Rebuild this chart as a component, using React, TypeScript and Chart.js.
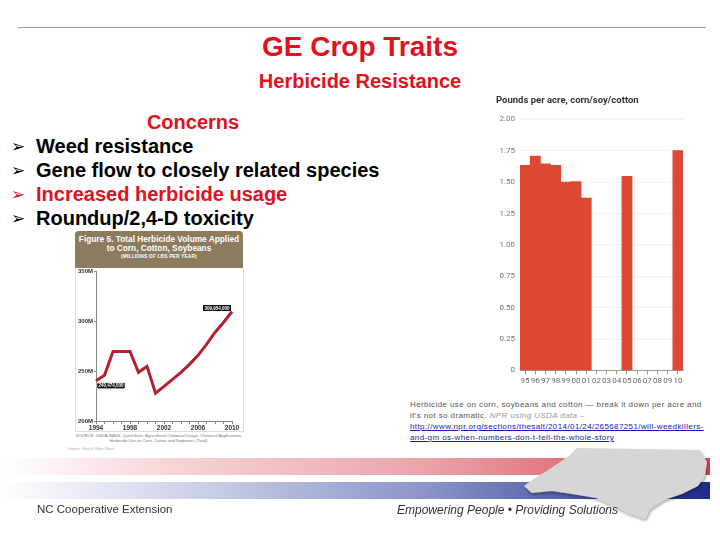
import React, { useEffect, useRef } from "react";
import { Chart, registerables } from "chart.js";

Chart.register(...registerables);

// ---- Bar chart data (pounds per acre, corn/soy/cotton) ----
const barYears = ["95", "96", "97", "98", "99", "00", "01", "02", "03", "04", "05", "06", "07", "08", "09", "10"];
const barValues: (number | null)[] = [1.635, 1.707, 1.645, 1.635, 1.5, 1.504, 1.373, null, null, null, 1.547, null, null, null, null, 1.752];
const barTitle = "Pounds per acre, corn/soy/cotton";

// ---- Line chart data (total herbicide volume, millions of lbs) ----
const lineYears = ["1994", "1995", "1996", "1997", "1998", "1999", "2000", "2001", "2002", "2003", "2004", "2005", "2006", "2007", "2008", "2009", "2010"];
const lineValues = [240.5, 246, 270, 270, 270, 249, 255, 228, 235, 242, 249, 257, 266, 277, 289, 299, 310];
const lineEndLabels = ["240,474,000", "309,954,000"];
const lineYTicks = [200, 250, 300, 350];

const bullets = [
  { text: "Weed resistance", color: "#000" },
  { text: "Gene flow to closely related species", color: "#000" },
  { text: "Increased herbicide usage", color: "#e3101e" },
  { text: "Roundup/2,4-D toxicity", color: "#000" },
];

const RED = "#e3101e";
const SANS = "'Liberation Sans', Arial, sans-serif";

function BarChart() {
  const ref = useRef<HTMLCanvasElement>(null);
  useEffect(() => {
    const chart = new Chart(ref.current!, {
      type: "bar",
      data: {
        labels: barYears,
        datasets: [
          {
            data: barValues,
            backgroundColor: "#dc4832",
            barPercentage: 1,
            categoryPercentage: 1,
            borderWidth: 0,
          },
        ],
      },
      options: {
        animation: false,
        responsive: false,
        layout: { padding: { left: 0, right: 7, top: 0, bottom: 2 } },
        plugins: {
          legend: { display: false },
          tooltip: { enabled: false },
          title: {
            display: true,
            text: barTitle,
            align: "start",
            color: "#333",
            font: { family: "Roboto, sans-serif", size: 9.5, weight: "bold" },
            padding: { top: 5, bottom: 13 },
          },
        },
        scales: {
          x: {
            grid: { display: true, drawOnChartArea: false, offset: false, tickLength: 4, color: "#999" },
            border: { display: true, color: "#999" },
            ticks: {
              autoSkip: false,
              maxRotation: 0,
              minRotation: 0,
              padding: 2,
              color: "#666",
              font: { family: "Roboto, sans-serif", size: 8 },
            },
          },
          y: {
            min: 0,
            max: 2,
            afterFit: (axis: any) => {
              axis.width = 24;
            },
            grid: { color: "#eeeeee", drawTicks: false },
            border: { display: false },
            ticks: {
              stepSize: 0.25,
              padding: 5,
              color: "#777",
              font: { family: "Roboto, sans-serif", size: 8 },
              callback: (v: any) => (Number(v) === 0 ? "0" : Number(v).toFixed(2)),
            },
          },
        },
      },
    });
    return () => chart.destroy();
  }, []);
  return (
    <canvas
      ref={ref}
      width={194}
      height={300}
      style={{ position: "absolute", left: 496, top: 90, width: 194, height: 300 }}
    />
  );
}

const endLabelPlugin = {
  id: "endLabels",
  afterDatasetsDraw(chart: any) {
    const meta = chart.getDatasetMeta(0);
    const first = meta.data[0];
    const last = meta.data[meta.data.length - 1];
    const ctx = chart.ctx;
    ctx.save();
    ctx.font = "bold 4.5px 'Liberation Sans', Arial, sans-serif";
    ctx.textBaseline = "middle";
    ctx.textAlign = "center";
    const w = 28;
    const h = 6;
    let x = first.x + 1;
    let y = first.y + 2;
    ctx.fillStyle = "#111";
    ctx.fillRect(x, y, w, h);
    ctx.strokeStyle = "#fff";
    ctx.lineWidth = 0.6;
    ctx.strokeRect(x, y, w, h);
    ctx.fillStyle = "#fff";
    ctx.fillText(lineEndLabels[0], x + w / 2, y + h / 2 + 0.3);
    x = last.x - w - 1;
    y = last.y - h - 0.5;
    ctx.fillStyle = "#111";
    ctx.fillRect(x, y, w, h);
    ctx.fillStyle = "#fff";
    ctx.fillText(lineEndLabels[1], x + w / 2, y + h / 2 + 0.3);
    ctx.restore();
  },
};

function LineChart() {
  const ref = useRef<HTMLCanvasElement>(null);
  useEffect(() => {
    const chart = new Chart(ref.current!, {
      type: "line",
      data: {
        labels: lineYears,
        datasets: [
          {
            data: lineValues,
            borderColor: "#b3202e",
            borderWidth: 3,
            pointRadius: 0,
            tension: 0,
            fill: false,
          },
        ],
      },
      options: {
        animation: false,
        responsive: false,
        layout: { padding: { left: 0, right: 11, top: 3, bottom: 0 } },
        plugins: { legend: { display: false }, tooltip: { enabled: false } },
        scales: {
          x: {
            grid: { display: true, drawOnChartArea: false, tickLength: 3, color: "#888" },
            border: { display: true, color: "#888" },
            ticks: {
              autoSkip: false,
              maxRotation: 0,
              minRotation: 0,
              padding: 0,
              color: "#333",
              font: { family: SANS, size: 6.5, weight: "bold" },
              callback: (_v: any, i: number) => (i % 4 === 0 ? lineYears[i] : ""),
            },
          },
          y: {
            min: 200,
            max: 350,
            afterFit: (axis: any) => {
              axis.width = 23;
            },
            afterBuildTicks: (axis: any) => {
              axis.ticks = lineYTicks.map((v) => ({ value: v }));
            },
            grid: { display: true, drawOnChartArea: false, tickLength: 2, color: "#888" },
            border: { display: true, color: "#888" },
            ticks: {
              padding: 1,
              color: "#333",
              font: { family: SANS, size: 6, weight: "bold" },
              callback: (v: any) => `${v}M`,
            },
          },
        },
      },
      plugins: [endLabelPlugin],
    });
    return () => chart.destroy();
  }, []);
  return (
    <canvas
      ref={ref}
      width={170}
      height={165}
      style={{ position: "absolute", left: 73, top: 267, width: 170, height: 165 }}
    />
  );
}

export default function App() {
  return (
    <div
      style={{
        position: "absolute",
        left: 0,
        top: 0,
        width: 720,
        height: 540,
        background: "#fff",
        overflow: "hidden",
        fontFamily: SANS,
      }}
    >
      <div style={{ position: "absolute", left: 18, top: 27, width: 688, height: 1, background: "#a8a0a8" }} />
      <div
        style={{ position: "absolute", left: 0, width: 720, top: 31, textAlign: "center", color: RED, fontWeight: 700, fontSize: 28, lineHeight: "32px" }}
      >
        GE Crop Traits
      </div>
      <div
        style={{ position: "absolute", left: 0, width: 720, top: 69, textAlign: "center", color: RED, fontWeight: 700, fontSize: 20, lineHeight: "24px" }}
      >
        Herbicide Resistance
      </div>
      <div
        style={{ position: "absolute", left: 93, width: 200, top: 110, textAlign: "center", color: RED, fontWeight: 700, fontSize: 20, lineHeight: "24px" }}
      >
        Concerns
      </div>
      {bullets.map((b, i) => (
        <div key={i} style={{ position: "absolute", left: 0, top: 134 + i * 24, height: 24, lineHeight: "24px", whiteSpace: "nowrap" }}>
          <span style={{ position: "absolute", left: 11, fontFamily: "'DejaVu Sans', sans-serif", fontSize: 17, color: b.color }}>➢</span>
          <span style={{ position: "absolute", left: 36, fontWeight: 700, fontSize: 20, color: b.color }}>{b.text}</span>
        </div>
      ))}

      {/* Figure 5 panel */}
      <div
        style={{
          position: "absolute",
          left: 75,
          top: 231,
          width: 168,
          height: 37,
          background: "#8b7b5f",
          borderRadius: "4px 4px 0 0",
          color: "#fff",
          textAlign: "center",
        }}
      >
        <div style={{ fontSize: 8.3, fontWeight: 700, marginTop: 4, lineHeight: "9px" }}>Figure 5. Total Herbicide Volume Applied</div>
        <div style={{ fontSize: 8.3, fontWeight: 700, lineHeight: "9px" }}>to Corn, Cotton, Soybeans</div>
        <div style={{ fontSize: 4.8, fontWeight: 700, lineHeight: "8px", letterSpacing: 0.2 }}>(MILLIONS OF LBS PER YEAR)</div>
      </div>
      <div style={{ position: "absolute", left: 75, top: 268, width: 167, height: 163, border: "1px solid #ddd", borderTop: "none" }} />
      <LineChart />
      <div style={{ position: "absolute", left: 75, top: 433, width: 168, fontSize: 4.2, lineHeight: "5px", color: "#777", textAlign: "center" }}>
        SOURCE: USDA-NASS, QuickStats, Agricultural Chemical Usage, Chemical Applications, Herbicide Use on Corn, Cotton and Soybeans (Total).
      </div>
      <div style={{ position: "absolute", left: 68, top: 447, fontSize: 3.5, color: "#aaa" }}>Graphic: Food &amp; Water Watch</div>

      <BarChart />

      {/* Caption */}
      <div
        style={{
          position: "absolute",
          left: 410,
          top: 399,
          width: 310,
          fontSize: 8,
          lineHeight: "11px",
          letterSpacing: 0.4,
          color: "#555",
          whiteSpace: "nowrap",
        }}
      >
        Herbicide use on corn, soybeans and cotton — break it down per acre and
        <br />
        it's not so dramatic. <span style={{ fontStyle: "italic", color: "#999" }}>NPR using USDA data –</span>
        <br />
        <span style={{ color: "#1b1b9c", textDecoration: "underline" }}>
          http://www.npr.org/sections/thesalt/2014/01/24/265687251/will-weedkillers-
          <br />
          and-gm os-when-numbers-don-t-tell-the-whole-story
        </span>
      </div>

      {/* Footer bands */}
      <div
        style={{
          position: "absolute",
          left: 0,
          top: 458,
          width: 710,
          height: 17,
          background: "linear-gradient(to right, #ffffff 0%, #f6d3d6 25%, #eaa3aa 60%, #d8434f 100%)",
        }}
      />
      <div
        style={{
          position: "absolute",
          left: 0,
          top: 482,
          width: 710,
          height: 17,
          background: "linear-gradient(to right, #ffffff 0%, #d2d5ea 25%, #8b93c8 60%, #1e2b8c 100%)",
        }}
      />
      <svg width={720} height={540} style={{ position: "absolute", left: 0, top: 0 }}>
        <defs>
          <filter id="sh" x="-10%" y="-10%" width="130%" height="140%">
            <feDropShadow dx="1" dy="2" stdDeviation="1.5" floodColor="#000" floodOpacity="0.35" />
          </filter>
        </defs>
        <polygon
          filter="url(#sh)"
          fill="#d6d6d6"
          points="577,448 700,450 707,462 705,476 698,486 682,494 664,500 650,509 645,519 630,514 612,505 596,498 572,494 552,491 532,493 524,486 535,478 548,470 560,462 570,455"
        />
      </svg>
      <div style={{ position: "absolute", left: 37, top: 503, fontSize: 11.5, color: "#333" }}>NC Cooperative Extension</div>
      <div style={{ position: "absolute", left: 397, top: 503, fontSize: 12, fontStyle: "italic", color: "#333" }}>
        Empowering People • Providing Solutions
      </div>
    </div>
  );
}
